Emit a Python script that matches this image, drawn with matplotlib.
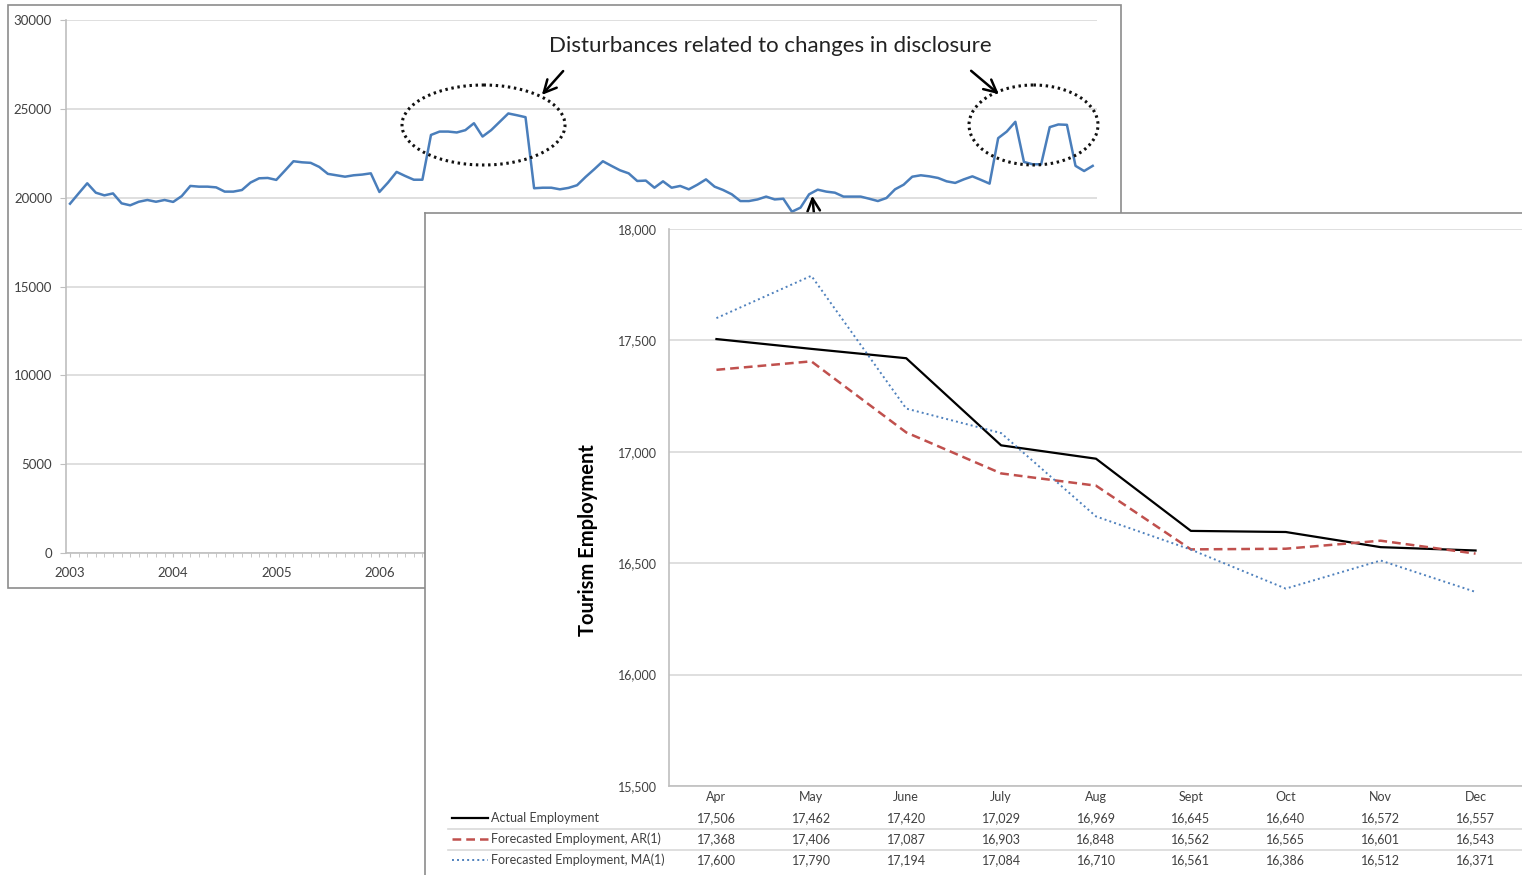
import matplotlib
matplotlib.use("Agg")
import matplotlib.pyplot as plt
from matplotlib.patches import Ellipse, Rectangle
from matplotlib.transforms import blended_transform_factory

plt.rcParams['font.family'] = ['Lato', 'DejaVu Sans']

# ---- data -------------------------------------------------------------
# monthly series behind (2003-01 .. 2012-12)
monthly_values = [
    19660, 20240, 20810, 20280, 20130, 20240, 19680, 19570, 19770, 19870,
    19770, 19870, 19760, 20090, 20660, 20620, 20620, 20580, 20340, 20340,
    20430, 20850, 21090, 21110, 21000, 21520, 22050, 21990, 21960, 21730,
    21340, 21260, 21180, 21260, 21300, 21370, 20320, 20850, 21450, 21220,
    21010, 21010, 23530, 23720, 23720, 23670, 23800, 24190, 23440, 23800,
    24270, 24740, 24640, 24530, 20530, 20560, 20560, 20470, 20550, 20700,
    21170, 21600, 22050, 21790, 21540, 21370, 20940, 20960, 20560, 20920,
    20560, 20660, 20470, 20730, 21030, 20620, 20430, 20190, 19810, 19810,
    19900, 20060, 19900, 19940, 19210, 19440, 20190, 20450, 20340, 20280,
    20060, 20060, 20060, 19940, 19810, 19980, 20470, 20730, 21180, 21260,
    21200, 21110, 20920, 20830, 21030, 21200, 21000, 20790, 23350, 23720,
    24270, 22010, 21880, 21880, 23970, 24120, 24100, 21790, 21500, 21790,
]
# only the first year labels are visible, the rest sit under the front chart
year_labels = ['2003', '2004', '2005', '2006', '', '', '', '', '', '']

# forecast chart in front
months = ['Apr', 'May', 'June', 'July', 'Aug', 'Sept', 'Oct', 'Nov', 'Dec']
actual = [17506, 17462, 17420, 17029, 16969, 16645, 16640, 16572, 16557]
ar1 = [17368, 17406, 17087, 16903, 16848, 16562, 16565, 16601, 16543]
ma1 = [17600, 17790, 17194, 17084, 16710, 16561, 16386, 16512, 16371]
series_names = ['Actual Employment', 'Forecasted Employment, AR(1)',
                'Forecasted Employment, MA(1)']

W, H = 1522, 875
GRID = '#d9d9d9'
FRAME = '#8c8c8c'
TXT = '#404040'


def box(l, t, r, b):
    # pixel box (top-left origin) -> figure fraction
    return [l / W, 1 - b / H, (r - l) / W, (b - t) / H]


fig = plt.figure(figsize=(W / 100, H / 100), dpi=100)

# ---- background chart -------------------------------------------------
ax1 = fig.add_axes(box(66, 20, 1097, 553))
ax1.set_zorder(0)
x = list(range(len(monthly_values)))
ax1.plot(x, monthly_values, color='#4a7ebb', lw=1.8, solid_joinstyle='round')
ax1.set_xlim(-0.47, 119.5)
ax1.set_ylim(0, 30000)
ax1.set_yticks(range(0, 30001, 5000))
ax1.set_yticklabels([str(v) for v in range(0, 30001, 5000)])
ax1.set_xticks(range(0, 120, 12))
ax1.set_xticklabels(year_labels)
ax1.set_xticks(range(0, 120), minor=True)
ax1.grid(axis='y', color=GRID, lw=1.2)
ax1.set_axisbelow(True)
for s in ['top', 'right']:
    ax1.spines[s].set_visible(False)
for s in ['left', 'bottom']:
    ax1.spines[s].set_color('#bfbfbf')
    ax1.spines[s].set_linewidth(1.2)
ax1.tick_params(axis='y', length=4, color='#bfbfbf', pad=6, labelsize=9.5, labelcolor=TXT)
ax1.tick_params(axis='x', which='both', length=3, color='#bfbfbf', pad=7,
                labelsize=9.5, labelcolor=TXT)

# annotations of the background chart (pixel space)
ax_ov = fig.add_axes([0, 0, 1, 1])
ax_ov.set_zorder(1)
ax_ov.set_xlim(0, W)
ax_ov.set_ylim(H, 0)
ax_ov.axis('off')
ax_ov.add_patch(Rectangle((8, 5), 1113, 583, fill=False, ec=FRAME, lw=1.2))
for cx, w in [(483.5, 163), (1033.5, 129)]:
    ax_ov.add_patch(Ellipse((cx, 125), w, 80, fill=False, ec='#111111',
                            lw=2.2, ls=(0, (0.8, 1.2))))
ax_ov.text(770, 46, 'Disturbances related to changes in disclosure',
           ha='center', va='center', fontsize=16, color='#222222')
arrow = dict(arrowstyle='->,head_length=0.9,head_width=0.45', color='black', lw=1.8)
ax_ov.annotate('', xy=(540, 97), xytext=(565, 69), arrowprops=arrow)
ax_ov.annotate('', xy=(1001, 96), xytext=(969, 69), arrowprops=arrow)
ax_ov.annotate('', xy=(812, 193), xytext=(816, 235), arrowprops=arrow)

# ---- front panel --------------------------------------------------------
ax_p = fig.add_axes(box(425, 213, W + 10, H + 10))
ax_p.set_zorder(2)
ax_p.set_xticks([])
ax_p.set_yticks([])
for s in ['right', 'bottom']:
    ax_p.spines[s].set_visible(False)
for s in ['left', 'top']:
    ax_p.spines[s].set_color(FRAME)
    ax_p.spines[s].set_linewidth(1.2)

ax2 = fig.add_axes(box(669, 229, 1523, 786))
ax2.set_zorder(3)
ax2.patch.set_alpha(0)
xi = list(range(len(months)))
ax2.plot(xi, actual, color='black', lw=1.6)
ax2.plot(xi, ar1, color='#c0504d', lw=1.8, ls=(0, (3.5, 2)))
ax2.plot(xi, ma1, color='#4f81bd', lw=1.4, ls=(0, (1, 1.6)))
ax2.set_xlim(-0.5, 8.5)
ax2.set_ylim(15500, 18000)
ax2.set_yticks(range(15500, 18001, 500))
ax2.set_yticklabels([f'{v:,}' for v in range(15500, 18001, 500)])
ax2.set_xticks([])
ax2.grid(axis='y', color=GRID, lw=1.2)
ax2.set_axisbelow(True)
for s in ['top', 'right']:
    ax2.spines[s].set_visible(False)
for s in ['left', 'bottom']:
    ax2.spines[s].set_color('#bfbfbf')
    ax2.spines[s].set_linewidth(1.2)
ax2.tick_params(axis='y', length=0, pad=9, labelsize=9, labelcolor=TXT)

# data table under the front chart
ax_t = fig.add_axes([0, 0, 1, 1])
ax_t.set_zorder(4)
ax_t.set_xlim(0, W)
ax_t.set_ylim(H, 0)
ax_t.axis('off')
tr = blended_transform_factory(ax2.transData, ax_t.transData)

ax_t.text(588, 540, 'Tourism Employment', rotation=90, ha='center', va='center',
          fontsize=14.5, fontweight='bold', color='black')

row_y = [818, 839, 860]
for i, m in enumerate(months):
    ax_t.text(i, 797, m, transform=tr, ha='center', va='center', fontsize=9, color=TXT)
rows = [actual, ar1, ma1]
styles = [dict(color='black', lw=1.6),
          dict(color='#c0504d', lw=1.8, ls=(0, (3.5, 2))),
          dict(color='#4f81bd', lw=1.4, ls=(0, (1, 1.6)))]
for y, vals, name, st in zip(row_y, rows, series_names, styles):
    ax_t.plot([452, 488], [y, y], **st)
    ax_t.text(491, y, name, ha='left', va='center', fontsize=9, color=TXT)
    for i, v in enumerate(vals):
        ax_t.text(i, y, f'{v:,}', transform=tr, ha='center', va='center',
                  fontsize=9, color=TXT)
for y in [828.5, 849.5]:
    ax_t.plot([448, W], [y, y], color=GRID, lw=1.2)

fig.savefig('out.png', dpi=100)
